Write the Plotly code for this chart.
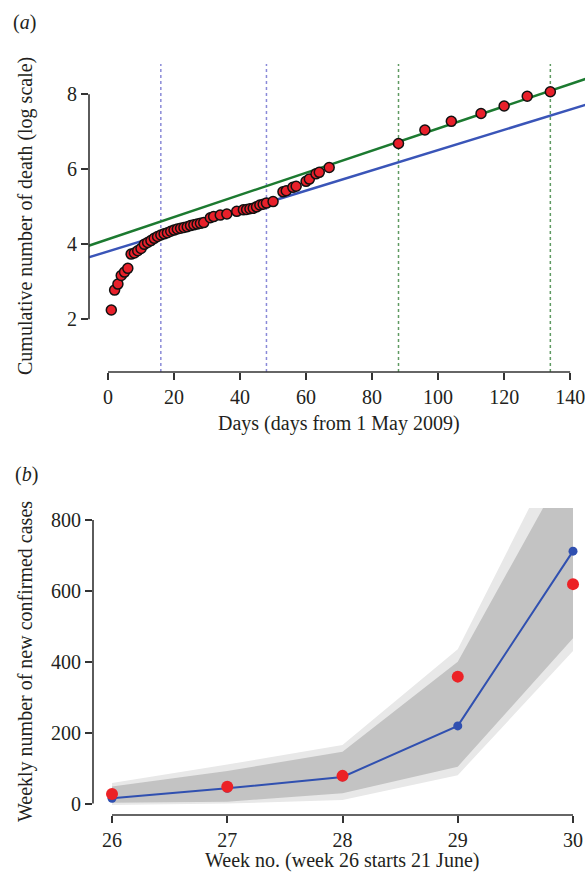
import plotly.graph_objects as go

W, H = 585, 876

# ---------------- Panel (a) data ----------------
days_a = [1, 2, 3, 4, 5, 6, 7, 8, 9, 10, 11, 12, 13, 14, 15, 16, 17, 18, 19, 20,
          21, 22, 23, 24, 25, 26, 27, 28, 29, 31, 32, 34, 36, 39, 41, 42, 43, 44,
          45, 46, 47, 48, 50, 53, 54, 56, 57, 60, 61, 63, 64, 67,
          88, 96, 104, 113, 120, 127, 134]
logdeaths_a = [2.25, 2.78, 2.94, 3.17, 3.26, 3.36, 3.74, 3.77, 3.83, 3.89, 4.0, 4.05,
               4.1, 4.16, 4.21, 4.25, 4.28, 4.31, 4.35, 4.38, 4.41, 4.43, 4.45, 4.47,
               4.5, 4.52, 4.54, 4.56, 4.58, 4.71, 4.74, 4.78, 4.81, 4.88, 4.92, 4.93,
               4.95, 4.96, 5.0, 5.05, 5.07, 5.1, 5.14, 5.4, 5.43, 5.52, 5.55, 5.68,
               5.74, 5.88, 5.92, 6.05,
               6.69, 7.05, 7.28, 7.49, 7.69, 7.95, 8.07]
fit_days = [-6, 145]
fit_green = [3.96, 8.42]
fit_blue = [3.65, 7.73]
vlines_blue = [16, 48]
vlines_green = [88, 134]
xticks_a = [0, 20, 40, 60, 80, 100, 120, 140]
yticks_a = [2, 4, 6, 8]

# ---------------- Panel (b) data ----------------
weeks = [26, 27, 28, 29, 30]
observed = [27, 47, 78, 358, 619]
model = [15, 43, 75, 219, 712]
inner_lo = [2, 5, 29, 104, 466]
inner_hi = [48, 92, 146, 400, 986]
outer_lo = [-4, 0, 10, 80, 430]
outer_hi = [58, 110, 165, 435, 1079]
xticks_b = [26, 27, 28, 29, 30]
yticks_b = [0, 200, 400, 600, 800]

FONT = "Liberation Serif"
TXT = "#231f20"
AX = "#333333"
RED = "#e8202a"
BLUE_FIT = "#3a55b8"
GREEN_FIT = "#1c7a30"

fig = go.Figure()

# Panel (a)
fig.add_trace(go.Scatter(x=fit_days, y=fit_blue, mode="lines", xaxis="x", yaxis="y",
                         line=dict(color=BLUE_FIT, width=2.5), hoverinfo="skip"))
fig.add_trace(go.Scatter(x=fit_days, y=fit_green, mode="lines", xaxis="x", yaxis="y",
                         line=dict(color=GREEN_FIT, width=2.5), hoverinfo="skip"))
fig.add_trace(go.Scatter(x=days_a, y=logdeaths_a, mode="markers", xaxis="x", yaxis="y",
                         marker=dict(color=RED, size=10, line=dict(color="#111111", width=1.5))))

# Panel (b)
fig.add_trace(go.Scatter(x=weeks + weeks[::-1], y=outer_hi + outer_lo[::-1], xaxis="x2", yaxis="y2",
                         fill="toself", fillcolor="#e8e8e8", line=dict(width=0), mode="lines",
                         hoverinfo="skip"))
fig.add_trace(go.Scatter(x=weeks + weeks[::-1], y=inner_hi + inner_lo[::-1], xaxis="x2", yaxis="y2",
                         fill="toself", fillcolor="#c3c3c3", line=dict(width=0), mode="lines",
                         hoverinfo="skip"))
fig.add_trace(go.Scatter(x=weeks, y=model, mode="lines+markers", xaxis="x2", yaxis="y2",
                         line=dict(color="#3050b0", width=2),
                         marker=dict(color="#3050b0", size=9)))
fig.add_trace(go.Scatter(x=weeks, y=observed, mode="markers", xaxis="x2", yaxis="y2",
                         marker=dict(color="#ec2226", size=12)))

# vertical dashed lines
for d in vlines_blue:
    fig.add_shape(type="line", xref="x", yref="y domain", x0=d, x1=d, y0=0, y1=1,
                  line=dict(color="#8a8ad8", width=1.5, dash="3px,3px"), layer="below")
for d in vlines_green:
    fig.add_shape(type="line", xref="x", yref="y domain", x0=d, x1=d, y0=0, y1=1,
                  line=dict(color="#5f9a62", width=1.5, dash="3px,3px"), layer="below")

# detached axis lines (span first..last tick)
axline = dict(color=AX, width=1.6)
fig.add_shape(type="line", xref="x", yref="y domain", x0=xticks_a[0], x1=xticks_a[-1], y0=0, y1=0, line=axline)
fig.add_shape(type="line", xref="x domain", yref="y", x0=0, x1=0, y0=yticks_a[0], y1=yticks_a[-1], line=axline)
fig.add_shape(type="line", xref="x2", yref="y2 domain", x0=xticks_b[0], x1=xticks_b[-1], y0=0, y1=0, line=axline)
fig.add_shape(type="line", xref="x2 domain", yref="y2", x0=0, x1=0, y0=yticks_b[0], y1=yticks_b[-1], line=axline)

tickfont = dict(family=FONT, size=20, color=TXT)
common = dict(showline=False, showgrid=False, zeroline=False, ticks="outside", ticklen=7,
              tickwidth=1.6, tickcolor=AX, tickfont=tickfont, fixedrange=True,
              ticklabeloverflow="allow")

fig.update_layout(
    width=W, height=H,
    margin=dict(l=0, r=0, t=0, b=0),
    paper_bgcolor="white", plot_bgcolor="white",
    showlegend=False,
    xaxis=dict(domain=[89 / W, 1], range=[-5.76, 144.5], anchor="y",
               tickvals=xticks_a, **common),
    yaxis=dict(domain=[1 - 372 / H, 1 - 64 / H], range=[0.595, 8.81], anchor="x",
               tickvals=yticks_a, **common),
    xaxis2=dict(domain=[93 / W, 1], range=[25.835, 30.104], anchor="y2",
                tickvals=xticks_b, **common),
    yaxis2=dict(domain=[1 - 815 / H, 1 - 508 / H], range=[-32.4, 833.8], anchor="x2",
                tickvals=yticks_b, **common),
)

tf = dict(family=FONT, size=20, color=TXT)
annots = [
    dict(text="(<i>a</i>)", x=11 / W, y=1 - 22 / H, xanchor="left", yanchor="middle"),
    dict(text="(<i>b</i>)", x=13 / W, y=1 - 474 / H, xanchor="left", yanchor="middle"),
    dict(text="Days (days from 1 May 2009)", x=339 / W, y=1 - 423 / H, xanchor="center", yanchor="middle"),
    dict(text="Cumulative number of death (log scale)", x=25 / W, y=1 - 216 / H,
         xanchor="center", yanchor="middle", textangle=-90),
    dict(text="Week no. (week 26 starts 21 June)", x=342 / W, y=1 - 860 / H, xanchor="center", yanchor="middle"),
    dict(text="Weekly number of new confirmed cases", x=25 / W, y=1 - 662 / H,
         xanchor="center", yanchor="middle", textangle=-90),
]
for a in annots:
    fig.add_annotation(xref="paper", yref="paper", showarrow=False, font=tf, **a)

fig.write_html(
    "out.html",
    config={"displayModeBar": False},
    post_script="document.documentElement.style.margin='0';document.body.style.margin='0';"
                "document.body.style.overflow='hidden';document.documentElement.style.overflow='hidden';",
)
